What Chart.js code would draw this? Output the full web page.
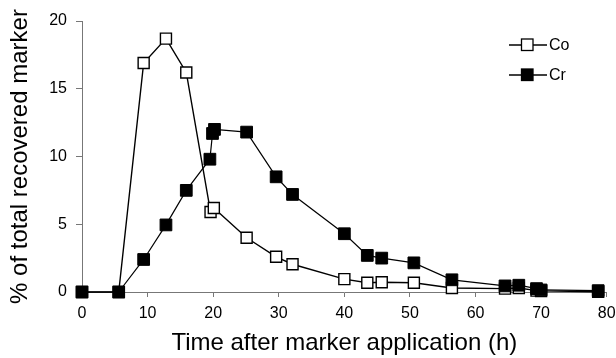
<!DOCTYPE html>
<html>
<head>
<meta charset="utf-8">
<script src="https://cdn.jsdelivr.net/npm/chart.js@4.4.1/dist/chart.umd.min.js"></script>
<style>
  html, body { margin: 0; padding: 0; background: #fff; }
  #wrap { width: 616px; height: 358px; }
</style>
</head>
<body>
<div id="wrap"><canvas id="chart" width="616" height="358"></canvas></div>
<script>
// Co (open squares)
const coTime = [0, 5.6, 9.4, 12.8, 15.9, 19.6, 20.1, 25.1, 29.6, 32.1, 40, 43.5, 45.7, 50.6, 56.4, 64.5, 66.6, 69.3, 70, 78.7];
const coValue = [0, 0, 16.9, 18.7, 16.2, 5.9, 6.2, 4.0, 2.6, 2.05, 0.95, 0.68, 0.72, 0.68, 0.3, 0.25, 0.3, 0.1, 0.08, 0.02];
// Cr (filled squares)
const crTime = [0, 5.6, 9.4, 12.8, 15.9, 19.5, 19.9, 20.2, 25.1, 29.6, 32.1, 40, 43.5, 45.7, 50.6, 56.4, 64.5, 66.6, 69.3, 70, 78.7];
const crValue = [0, 0, 2.4, 4.95, 7.5, 9.8, 11.7, 12.0, 11.8, 8.5, 7.2, 4.3, 2.7, 2.5, 2.15, 0.9, 0.45, 0.5, 0.25, 0.15, 0.1];

const xTicks = [0, 10, 20, 30, 40, 50, 60, 70, 80];
const yTicks = [0, 5, 10, 15, 20];

const FONT = '"Liberation Sans", Arial, sans-serif';

function toPoints(xs, ys) {
  return xs.map((x, i) => ({ x: x, y: ys[i] }));
}

// legend drawn as line + marker + label, like the original
const legendPlugin = {
  id: 'lineLegend',
  afterDraw(chart) {
    const ctx = chart.ctx;
    const items = [
      { label: 'Co', fill: '#fff' },
      { label: 'Cr', fill: '#000' }
    ];
    ctx.save();
    items.forEach((it, i) => {
      const y = 45 + i * 30;
      ctx.strokeStyle = '#000';
      ctx.lineWidth = 1.3;
      ctx.beginPath();
      ctx.moveTo(509, y);
      ctx.lineTo(547, y);
      ctx.stroke();
      ctx.fillStyle = it.fill;
      ctx.fillRect(521.5, y - 6, 11.5, 11.5);
      ctx.strokeRect(521.5, y - 6, 11.5, 11.5);
      ctx.fillStyle = '#000';
      ctx.font = '16px ' + FONT;
      ctx.textBaseline = 'middle';
      ctx.fillText(it.label, 549, y + 1);
    });
    ctx.restore();
  }
};

new Chart(document.getElementById('chart').getContext('2d'), {
  type: 'scatter',
  data: {
    datasets: [
      {
        label: 'Cr',
        data: toPoints(crTime, crValue),
        showLine: true,
        clip: false,
        borderColor: '#000',
        borderWidth: 1.2,
        backgroundColor: '#000',
        pointStyle: 'rect',
        pointRadius: 8.3,
        pointBorderWidth: 1,
        pointBorderColor: '#000',
        pointBackgroundColor: '#000',
        order: 1
      },
      {
        label: 'Co',
        data: toPoints(coTime, coValue),
        showLine: true,
        clip: false,
        borderColor: '#000',
        borderWidth: 1.4,
        pointStyle: 'rect',
        pointRadius: 7.8,
        pointBorderWidth: 1.4,
        pointBorderColor: '#000',
        pointBackgroundColor: '#fff',
        order: 2
      }
    ]
  },
  options: {
    responsive: false,
    animation: false,
    layout: { padding: { left: 0, top: 21, right: 8, bottom: 0 } },
    plugins: { legend: { display: false }, tooltip: { enabled: false } },
    scales: {
      x: {
        type: 'linear',
        min: 0,
        max: 80,
        afterBuildTicks: s => { s.ticks = xTicks.map(v => ({ value: v })); },
        afterFit: s => { s.height = 66; s.paddingLeft = 0; s.paddingRight = 0; },
        grid: { display: true, drawOnChartArea: false, drawTicks: true, tickLength: 5, color: '#777', lineWidth: 1 },
        border: { display: true, color: '#777', width: 1 },
        ticks: { color: '#000', font: { family: FONT, size: 16 }, padding: 7, maxRotation: 0 },
        title: {
          display: true,
          text: 'Time after marker application (h)',
          color: '#000',
          font: { family: FONT, size: 24, lineHeight: 1.0 },
          padding: { top: 0, bottom: 3 }
        }
      },
      y: {
        type: 'linear',
        min: 0,
        max: 20,
        afterBuildTicks: s => { s.ticks = yTicks.map(v => ({ value: v })); },
        afterFit: s => { s.width = 82; s.paddingTop = 0; s.paddingBottom = 0; },
        grid: { display: true, drawOnChartArea: false, drawTicks: true, tickLength: 6, color: '#777', lineWidth: 1 },
        border: { display: true, color: '#777', width: 1 },
        ticks: { color: '#000', font: { family: FONT, size: 16 }, padding: 9 },
        title: {
          display: true,
          text: '% of total recovered marker',
          color: '#000',
          font: { family: FONT, size: 24 },
          padding: { top: 6, bottom: 0 }
        }
      }
    }
  },
  plugins: [legendPlugin]
});
</script>
</body>
</html>
